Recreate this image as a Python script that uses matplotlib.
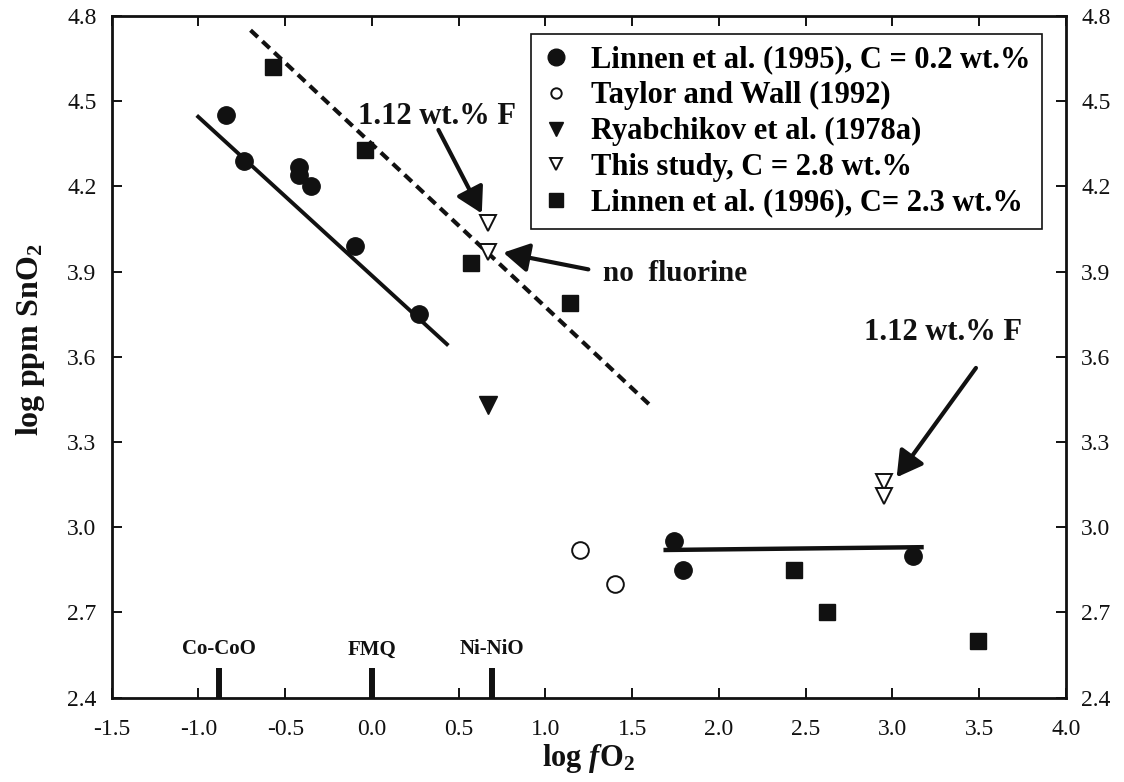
import numpy as np
import matplotlib
matplotlib.use("Agg")
import matplotlib.pyplot as plt

plt.rcParams["font.family"] = ["Liberation Serif", "DejaVu Serif"]
plt.rcParams["mathtext.fontset"] = "custom"
plt.rcParams["mathtext.rm"] = "Liberation Serif"
plt.rcParams["mathtext.bf"] = "Liberation Serif:bold"
plt.rcParams["mathtext.it"] = "Liberation Serif:italic:bold"
plt.rcParams["axes.unicode_minus"] = False

INK = "#111111"

# ── data ──
linnen95_x = [-0.84, -0.74, -0.42, -0.42, -0.35, -0.10, 0.27, 1.74, 1.79, 3.12]
linnen95_y = [4.45, 4.29, 4.27, 4.24, 4.20, 3.99, 3.75, 2.95, 2.85, 2.90]
taylor_x = [1.20, 1.40]
taylor_y = [2.92, 2.80]
ryab_x = [0.67]
ryab_y = [3.43]
study_x = [0.67, 0.67, 2.95, 2.95]
study_y = [4.07, 3.97, 3.16, 3.11]
linnen96_x = [-0.57, -0.04, 0.57, 1.14, 2.43, 2.62, 3.49]
linnen96_y = [4.62, 4.33, 3.93, 3.79, 2.85, 2.70, 2.60]

# regression lines (end points)
fit_low_x = [-1.01, 0.44]
fit_low_y = [4.45, 3.64]
fit_high_x = [-0.70, 1.62]
fit_high_y = [4.75, 3.42]
fit_flat_x = [1.68, 3.18]
fit_flat_y = [2.92, 2.93]

# oxygen buffers
buffer_names = ["Co-CoO", "FMQ", "Ni-NiO"]
buffer_x = [-0.88, 0.0, 0.69]
buffer_top = 2.505

legend_labels = [
    "Linnen et al. (1995), C = 0.2 wt.%",
    "Taylor and Wall (1992)",
    "Ryabchikov et al. (1978a)",
    "This study, C = 2.8 wt.%",
    "Linnen et al. (1996), C= 2.3 wt.%",
]

fig = plt.figure(figsize=(11.24, 7.82), dpi=100)
ax = fig.add_axes([0.0994, 0.1078, 0.849, 0.8717])

# lines
ax.plot(fit_low_x, fit_low_y, color=INK, lw=2.8, solid_capstyle="butt")
ax.plot(fit_high_x, fit_high_y, color=INK, lw=3.0, dashes=(2.4, 1.5))
ax.plot(fit_flat_x, fit_flat_y, color=INK, lw=3.2, solid_capstyle="butt")

# points
h1, = ax.plot(linnen95_x, linnen95_y, "o", ms=12.5, color=INK, ls="none")
h2, = ax.plot(taylor_x, taylor_y, "o", ms=12, mfc="white", mec=INK, mew=1.4, ls="none")
h3, = ax.plot(ryab_x, ryab_y, "v", ms=13, color=INK, ls="none")
h4, = ax.plot(study_x, study_y, "v", ms=12, mfc="white", mec=INK, mew=1.4, ls="none")
h5, = ax.plot(linnen96_x, linnen96_y, "s", ms=11.3, color=INK, ls="none")

# buffer markers on the x axis
for name, bx in zip(buffer_names, buffer_x):
    ax.plot([bx, bx], [2.4, buffer_top], color=INK, lw=4.3, solid_capstyle="butt")
    ax.text(bx, 2.57, name, ha="center", va="center", fontsize=15,
            fontweight="bold", color=INK)

# annotations
arrow_kw = dict(arrowstyle="-|>,head_length=0.7,head_width=0.4", color=INK,
                lw=3, mutation_scale=22, shrinkA=0, shrinkB=0)
ax.text(0.375, 4.448, "1.12 wt.% F", ha="center", va="center", fontsize=22,
        fontweight="bold", color=INK)
ax.annotate("", xy=(0.633, 4.105), xytext=(0.383, 4.399), arrowprops=arrow_kw)

ax.text(1.33, 3.894, "no  fluorine", ha="left", va="center", fontsize=21,
        fontweight="bold", color=INK)
ax.annotate("", xy=(0.757, 3.967), xytext=(1.247, 3.908), arrowprops=arrow_kw)

ax.text(3.29, 3.685, "1.12 wt.% F", ha="center", va="center", fontsize=22,
        fontweight="bold", color=INK)
ax.annotate("", xy=(3.024, 3.176), xytext=(3.481, 3.561), arrowprops=arrow_kw)

# axes
ax.set_xlim(-1.5, 4.0)
ax.set_ylim(2.4, 4.8)
xt = np.arange(-1.5, 4.01, 0.5)
yt = np.arange(2.4, 4.81, 0.3)
ax.set_xticks(xt)
ax.set_xticklabels([f"{v:.1f}" for v in xt])
ax.set_yticks(yt)
ax.set_yticklabels([f"{v:.1f}" for v in yt])
ax.tick_params(direction="in", top=True, right=True, labelright=True,
               length=7, width=1.4, labelsize=17, colors=INK)
ax.tick_params(axis="x", pad=15)
ax.tick_params(axis="y", pad=11)
for sp in ax.spines.values():
    sp.set_linewidth(2.0)
    sp.set_color(INK)

ax.set_xlabel(r"$\mathbf{log}\ \mathit{f}\mathbf{O}_{\mathbf{2}}$", fontsize=22,
              labelpad=2, color=INK)
ax.set_ylabel(r"$\mathbf{log\ ppm\ SnO}_{\mathbf{2}}$", fontsize=23, color=INK)
ax.yaxis.set_label_coords(-0.068, 0.525)

leg = ax.legend([h1, h2, h3, h4, h5], legend_labels, loc="upper right",
                bbox_to_anchor=(0.975, 0.9736), borderaxespad=0,
                prop={"size": 22, "weight": "bold"}, labelspacing=0.22,
                handlelength=0.9, handletextpad=0.7, borderpad=0.38,
                fancybox=False, framealpha=1, edgecolor=INK)
leg.get_frame().set_linewidth(1.2)
for h, ms in zip(leg.legend_handles, [12, 7.5, 9.5, 9, 10]):
    h.set_markersize(ms)

fig.savefig("out.png", dpi=100)
